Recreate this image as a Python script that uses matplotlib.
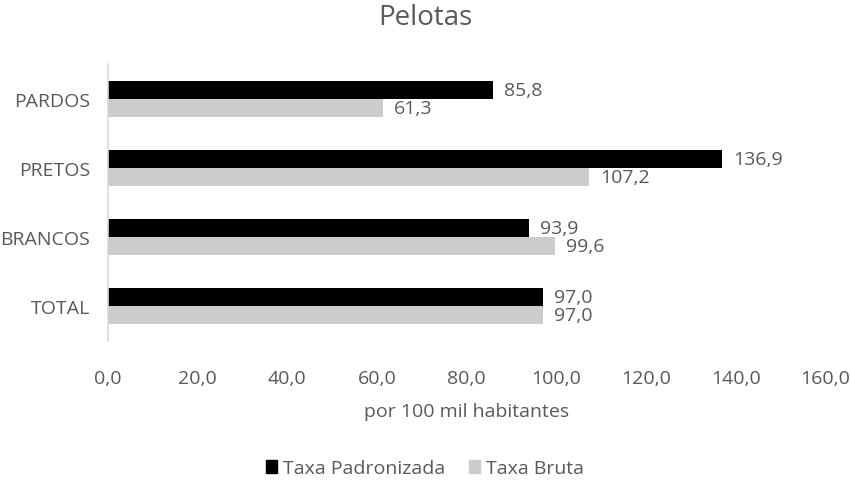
import matplotlib.pyplot as plt
from matplotlib.patches import Patch

categories = ['TOTAL', 'BRANCOS', 'PRETOS', 'PARDOS']
taxa_padronizada = [97.0, 93.9, 136.9, 85.8]
taxa_bruta = [97.0, 99.6, 107.2, 61.3]
x_ticks = [0, 20, 40, 60, 80, 100, 120, 140, 160]

TXT = '#595959'
BLACK = '#000000'
GRAY = '#cccccc'
FS = 14

plt.rcParams['font.family'] = ['Open Sans', 'DejaVu Sans']

fig = plt.figure(figsize=(8.5, 4.81), dpi=100)
ax = fig.add_axes([108 / 850, (481 - 342) / 481, (825.6 - 108) / 850, (342 - 65) / 481])

h = 0.26
pos = list(range(len(categories)))
ax.barh([p + h / 2 for p in pos], taxa_padronizada, height=h, color=BLACK)
ax.barh([p - h / 2 for p in pos], taxa_bruta, height=h, color=GRAY)


def fmt(v):
    return ('%.1f' % v).replace('.', ',')


for p, a, b in zip(pos, taxa_padronizada, taxa_bruta):
    ax.annotate(fmt(a), (a, p + h / 2), xytext=(11, 0), textcoords='offset pixels',
                va='center', ha='left', fontsize=FS, color=TXT)
    ax.annotate(fmt(b), (b, p - h / 2), xytext=(11, 0), textcoords='offset pixels',
                va='center', ha='left', fontsize=FS, color=TXT)

ax.set_xlim(0, 160)
ax.set_ylim(-0.5, len(categories) - 0.5)
ax.set_xticks(x_ticks)
ax.set_xticklabels([fmt(t) for t in x_ticks])
ax.set_yticks(pos)
ax.set_yticklabels(categories)
ax.tick_params(axis='both', length=0, colors=TXT, labelsize=FS)
ax.tick_params(axis='x', pad=20)
ax.tick_params(axis='y', pad=13)
for s in ['top', 'right', 'bottom']:
    ax.spines[s].set_visible(False)
ax.spines['left'].set_color('#d9d9d9')
ax.spines['left'].set_linewidth(1.2)

ax.set_xlabel('por 100 mil habitantes', fontsize=FS, color=TXT, labelpad=11)
fig.text(0.5, 0.963, 'Pelotas', ha='center', va='center', fontsize=20, color=TXT)

handles = [Patch(color=BLACK), Patch(color=GRAY)]
fig.legend(handles, ['Taxa Padronizada', 'Taxa Bruta'], loc='center', bbox_to_anchor=(0.5, 0.024),
           ncol=2, frameon=False, fontsize=FS, labelcolor=TXT, handlelength=0.6, handleheight=0.6,
           handletextpad=0.3, columnspacing=1.2)

fig.savefig('out.png', dpi=100)
